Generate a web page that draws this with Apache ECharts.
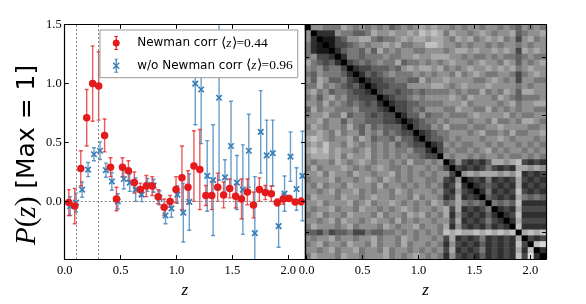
<!DOCTYPE html>
<html><head><meta charset="utf-8">
<script src="https://cdn.jsdelivr.net/npm/echarts@6/dist/echarts.min.js"></script>
<style>html,body{margin:0;padding:0;background:#fff;}#c{width:586px;height:304px;}</style>
</head><body><div id="c"></div>
<script>
// ---- data ----
const zRed = [0.037,0.090,0.144,0.197,0.250,0.304,0.357,0.410,0.463,0.517,0.570,0.623,0.677,0.730,0.783,0.836,0.890,0.943,0.996,1.049,1.103,1.156,1.209,1.263,1.316,1.369,1.422,1.476,1.529,1.582,1.635,1.689,1.742,1.795,1.849,1.902,1.955,2.008,2.062,2.115];
const pRed = [-0.01,-0.04,0.28,0.71,1.00,0.98,0.56,0.29,0.02,0.29,0.26,0.16,0.10,0.13,0.13,0.04,-0.05,0.00,0.10,0.20,0.12,0.30,0.27,0.05,0.05,0.12,0.055,0.11,0.044,0.02,0.08,-0.03,0.10,0.075,0.065,-0.01,0.02,0.025,-0.005,0.0];
const eRed = [0.11,0.15,0.15,0.24,0.32,0.29,0.14,0.08,0.10,0.08,0.085,0.09,0.055,0.09,0.08,0.06,0.07,0.05,0.11,0.27,0.14,0.30,0.34,0.085,0.12,0.12,0.11,0.08,0.10,0.17,0.11,0.11,0.10,0.06,0.065,0.03,0.045,0.025,0.02,0.03];
const zBlue = [0.049,0.102,0.156,0.209,0.262,0.316,0.369,0.422,0.475,0.529,0.582,0.635,0.689,0.742,0.795,0.848,0.902,0.955,1.008,1.061,1.115,1.168,1.221,1.275,1.328,1.381,1.434,1.488,1.541,1.594,1.647,1.701,1.754,1.807,1.861,1.914,1.967,2.020,2.074,2.127];
const pBlue = [-0.04,-0.01,0.10,0.27,0.40,0.43,0.265,0.17,0.00,0.19,0.16,0.10,0.058,0.14,0.133,0.03,-0.12,-0.06,0.058,-0.095,-0.005,1.00,0.95,0.216,0.18,0.88,0.204,0.47,0.16,0.10,0.43,-0.27,0.59,0.39,0.41,-0.21,0.066,0.38,0.105,0.216];
const eBlue = [0.08,0.08,0.065,0.06,0.055,0.075,0.06,0.075,0.065,0.085,0.075,0.10,0.06,0.055,0.055,0.06,0.07,0.075,0.075,0.25,0.24,0.35,0.46,0.30,0.47,0.70,0.15,0.38,0.23,0.38,0.31,0.48,0.35,0.30,0.28,0.18,0.15,0.21,0.18,0.38];
const seriesNames = ['Newman corr', 'w/o Newman corr'];
const meanZ = ['0.44', '0.96'];
const xTicks = [0, 0.5, 1.0, 1.5, 2.0];
const yTicks = [0, 0.5, 1.0, 1.5];
const refZ = [0.1, 0.3];
const refP = [0];
const matTicks = [5.5, 15.5, 25.5, 35.5];
// correlation matrix, lower triangle, lightness digits 0 (black) .. 9 (light)
const matRows = [
"0",
"60",
"620",
"5210",
"52110",
"563320",
"7543420",
"65645530",
"546555420",
"6476445320",
"55756543420",
"675645543320",
"5646756443330",
"66575654543420",
"475665556444320",
"5667557455434330",
"66756646554443320",
"576566575464544420",
"6676575664656454330",
"78765667576455464420",
"676866576565656454330",
"7878676656756565564420",
"67776757667565656554330",
"656657656765665657556560",
"5756667656567655656656530",
"66757665766566756565656630",
"566675665676576565665563260",
"6575665766657566565656523720",
"66567566756566576566656326320",
"576665766567665665756652372320",
"6675666756756676565657645754540",
"65667566576656567656656737232350",
"567566576665756657675657263232420",
"6656757665676657565665663723235320",
"57666567566657656675665726323242320",
"443534453354455656565658787787878780",
"6566756656675665765665637232352323270",
"56756657665756657566565263232423232830",
"665675667566575665656563723235232327280",
"5766657665666756567656526323242323283920"
];

// ---- build ----
const N = matRows.length;
const idx = []; for (let i = 0; i < N; i++) idx.push(i);
const heat = [];
for (let i = 0; i < N; i++) for (let j = 0; j < N; j++) {
  const r = Math.max(i, j), c = Math.min(i, j);
  heat.push([j, i, Number(matRows[r][c])]);
}
const RED = '#e41a1c', BLUE = '#377eb8';
const RED_BAR = 'rgba(228,26,28,0.72)', BLUE_BAR = 'rgba(55,126,184,0.75)';
const zip3 = (a, b, c) => a.map((v, i) => [v, b[i], c[i]]);
function errRender(color) {
  return function (params, api) {
    const x = api.value(0), y = api.value(1), e = api.value(2);
    const t = api.coord([x, y + e]), b = api.coord([x, y - e]);
    const cw = 2, st = { stroke: color, lineWidth: 1.4 };
    return { type: 'group', children: [
      { type: 'line', shape: { x1: t[0], y1: t[1], x2: b[0], y2: b[1] }, style: st },
      { type: 'line', shape: { x1: t[0] - cw, y1: t[1], x2: t[0] + cw, y2: t[1] }, style: st },
      { type: 'line', shape: { x1: b[0] - cw, y1: b[1], x2: b[0] + cw, y2: b[1] }, style: st }
    ]};
  };
}
const serif = 'Liberation Serif';
const lineBlack = { show: true, onZero: false, lineStyle: { color: '#000', width: 1.2 } };
const tickIn = vals => ({ show: true, inside: true, length: 4, customValues: vals, lineStyle: { color: '#000', width: 1 } });
const noLabel = { show: false };
const tickLabel = (vals, margin) => ({ show: true, customValues: vals, margin: margin, formatter: v => Number(v).toFixed(1), fontFamily: serif, fontSize: 12.5, color: '#000' });
const zName = { name: 'z', nameLocation: 'middle', nameGap: 20, nameTextStyle: { fontFamily: serif, fontStyle: 'italic', fontSize: 17, color: '#000' } };

const redIcon = 'path://M3.4,0L4.6,0L4.6,14L3.4,14Z M2.2,0L5.8,0L5.8,0.9L2.2,0.9Z M2.2,13.1L5.8,13.1L5.8,14L2.2,14Z M7.5,7A3.5,3.5 0 1,1 0.5,7A3.5,3.5 0 1,1 7.5,7Z';
const blueIcon = 'path://M3.4,0L4.6,0L4.6,14L3.4,14Z M2.2,0L5.8,0L5.8,0.9L2.2,0.9Z M2.2,13.1L5.8,13.1L5.8,14L2.2,14Z M1.5,3.5L7.5,9.5L6.5,10.5L0.5,4.5Z M6.5,3.5L7.5,4.5L1.5,10.5L0.5,9.5Z';

const option = {
  animation: false,
  backgroundColor: '#fff',
  grid: [
    { left: 64.7, top: 24.7, width: 240.3, height: 239.6 },
    { left: 305, top: 24.7, width: 241, height: 239.6 }
  ],
  xAxis: [
    Object.assign({ gridIndex: 0, type: 'value', min: 0, max: 2.15, position: 'bottom', z: 10,
      axisLine: lineBlack, axisTick: tickIn(xTicks), axisLabel: tickLabel(xTicks, 5), splitLine: { show: false } }, zName),
    { gridIndex: 0, type: 'value', min: 0, max: 2.15, position: 'top', z: 10,
      axisLine: lineBlack, axisTick: tickIn(xTicks), axisLabel: noLabel, splitLine: { show: false } },
    { gridIndex: 1, type: 'category', data: idx, show: false },
    Object.assign({ gridIndex: 1, type: 'value', min: -0.015, max: 2.14, position: 'bottom', z: 10,
      axisLine: lineBlack, axisTick: tickIn(xTicks), axisLabel: tickLabel(xTicks, 5), splitLine: { show: false } }, zName),
    { gridIndex: 1, type: 'value', min: -0.015, max: 2.14, position: 'top', z: 10,
      axisLine: lineBlack, axisTick: tickIn(xTicks), axisLabel: noLabel, splitLine: { show: false } }
  ],
  yAxis: [
    { gridIndex: 0, type: 'value', min: -0.49, max: 1.5, position: 'left', z: 10,
      axisLine: lineBlack, axisTick: tickIn(yTicks), axisLabel: tickLabel(yTicks, 3), splitLine: { show: false },
      name: '{i|P}{m|(}{i|z}{m|)}{s| [Max = 1]}', nameLocation: 'middle', nameRotate: 90, nameGap: 21,
      nameTextStyle: { color: '#000', padding: [0, 26, 0, 0], rich: {
        i: { fontFamily: serif, fontStyle: 'italic', fontSize: 29, color: '#000' },
        m: { fontFamily: serif, fontSize: 29, color: '#000' },
        s: { fontFamily: 'DejaVu Sans', fontSize: 25, color: '#000' } } } },
    { gridIndex: 0, type: 'value', min: -0.49, max: 1.5, position: 'right', z: 10,
      axisLine: lineBlack, axisTick: tickIn(yTicks), axisLabel: noLabel, splitLine: { show: false } },
    { gridIndex: 1, type: 'category', data: idx, inverse: true, show: false },
    { gridIndex: 1, type: 'value', min: 0, max: N, inverse: true, position: 'left', z: 10,
      axisLine: lineBlack, axisTick: tickIn(matTicks), axisLabel: noLabel, splitLine: { show: false } },
    { gridIndex: 1, type: 'value', min: 0, max: N, inverse: true, position: 'right', z: 10,
      axisLine: lineBlack, axisTick: tickIn(matTicks), axisLabel: noLabel, splitLine: { show: false } }
  ],
  visualMap: { show: false, seriesIndex: 5, min: 0, max: 9, inRange: { color: ['#000000', '#d8d8d8'] } },
  legend: {
    left: 100, top: 30, orient: 'vertical', selectedMode: false,
    backgroundColor: '#fff', borderColor: '#999', borderWidth: 1, borderRadius: 0,
    padding: [6, 5, 5, 12.7], itemGap: 8.7, itemWidth: 8, itemHeight: 14, symbolKeepAspect: true,
    data: [
      { name: seriesNames[0], icon: redIcon, itemStyle: { color: RED, borderWidth: 0 } },
      { name: seriesNames[1], icon: blueIcon, itemStyle: { color: BLUE, borderWidth: 0 } }
    ],
    formatter: name => '{a|' + name + ' }{m|⟨}{i|z}{m|⟩=' + meanZ[seriesNames.indexOf(name)] + '}',
    textStyle: { color: '#000', rich: {
      a: { fontFamily: 'DejaVu Sans', fontSize: 12, color: '#000', padding: [0, 0, 0, 12] },
      m: { fontFamily: serif, fontSize: 13.5, color: '#000' },
      i: { fontFamily: serif, fontStyle: 'italic', fontSize: 13.5, color: '#000' } } }
  },
  series: [
    { type: 'custom', xAxisIndex: 0, yAxisIndex: 0, clip: true, z: 3, silent: true,
      data: zip3(zBlue, pBlue, eBlue), encode: { x: 0, y: 1 }, renderItem: errRender(BLUE_BAR) },
    { type: 'custom', xAxisIndex: 0, yAxisIndex: 0, clip: true, z: 3, silent: true,
      data: zip3(zRed, pRed, eRed), encode: { x: 0, y: 1 }, renderItem: errRender(RED_BAR) },
    { name: seriesNames[0], type: 'scatter', xAxisIndex: 0, yAxisIndex: 0, z: 5, clip: true,
      symbol: 'circle', symbolSize: 7.5, itemStyle: { color: RED, opacity: 1 },
      data: zRed.map((v, i) => [v, pRed[i]]) },
    { name: seriesNames[1], type: 'scatter', xAxisIndex: 0, yAxisIndex: 0, z: 4, clip: true,
      symbol: 'path://M0,0L10,10M10,0L0,10', symbolSize: 5.5,
      itemStyle: { color: 'rgba(0,0,0,0)', borderColor: BLUE, borderWidth: 1.7, opacity: 1 },
      data: zBlue.map((v, i) => [v, pBlue[i]]) },
    { type: 'scatter', xAxisIndex: 0, yAxisIndex: 0, z: 2, symbolSize: 0, silent: true, data: [],
      markLine: { silent: true, symbol: 'none', animation: false, label: { show: false },
        lineStyle: { color: '#808080', type: [2, 2], width: 1 },
        data: refZ.map(v => ({ xAxis: v })).concat(refP.map(v => ({ yAxis: v }))) } },
    { type: 'heatmap', xAxisIndex: 2, yAxisIndex: 2, data: heat, progressive: 0, silent: true,
      itemStyle: { borderWidth: 0 }, emphasis: { disabled: true } }
  ]
};
const chart = echarts.init(document.getElementById('c'), null, { renderer: 'canvas' });
chart.setOption(option);
</script>
</body></html>
